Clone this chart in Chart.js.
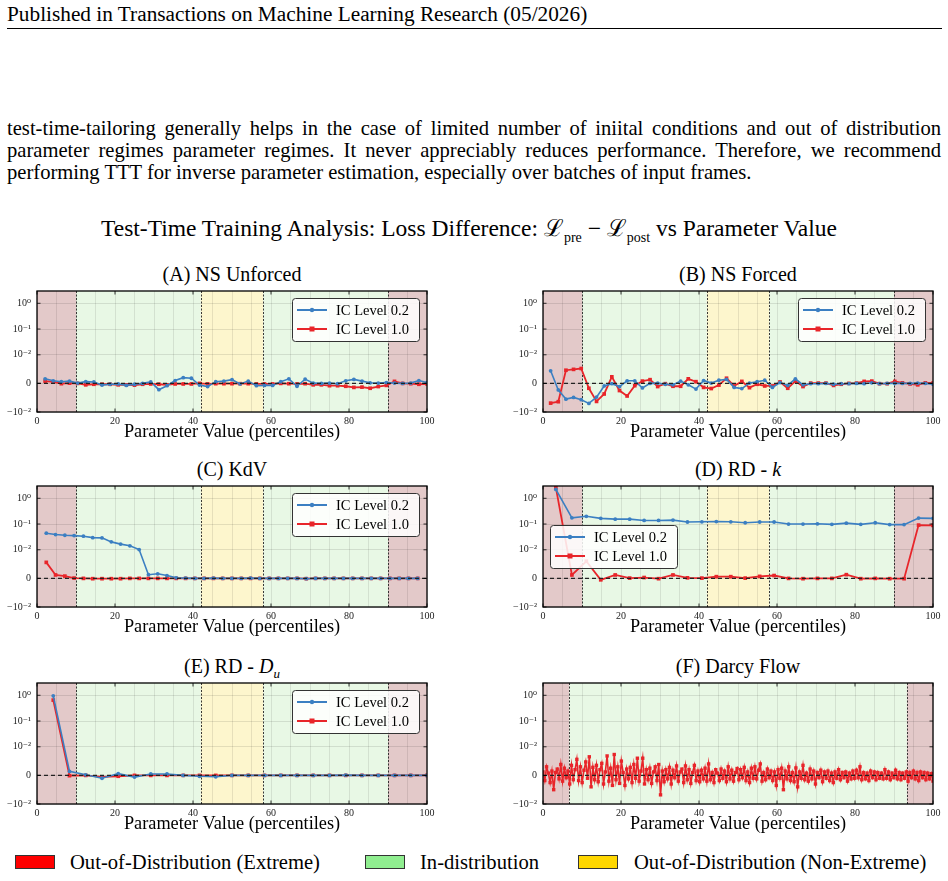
<!DOCTYPE html>
<html>
<head>
<meta charset="utf-8">
<script src="https://cdn.jsdelivr.net/npm/chart.js@4.4.1/dist/chart.umd.min.js"></script>
<style>
  body { margin: 0; width: 948px; height: 881px; background: #fff; position: relative; overflow: hidden;
         font-family: 'Liberation Serif', 'DejaVu Serif', serif; color: #000; }
  .txt { position: absolute; white-space: nowrap; }
  #header { left: 7px; top: 2px; font-size: 21.3px; line-height: 25px; }
  #rule { position: absolute; left: 7px; top: 28px; width: 935px; height: 1px; background: #000; }
  .pline { position: absolute; left: 7px; width: 934px; font-size: 20.6px; line-height: 22px; white-space: nowrap; }
  .just { text-align: justify; text-align-last: justify; }
  #mainTitle { left: 0; width: 938px; text-align: center; top: 214px; font-size: 23.5px; line-height: 28px; }
  #mainTitle sub { font-size: 14px; }
  .ptitle { position: absolute; width: 390px; text-align: center; font-size: 20px; line-height: 20px; white-space: nowrap; }
  canvas { position: absolute; }
  .sw { position: absolute; top: 855px; width: 38px; height: 12px; border: 1px solid #333; }
  .lg { position: absolute; top: 850px; font-size: 20.6px; line-height: 24px; white-space: nowrap; }
</style>
</head>
<body>
<div id="header" class="txt">Published in Transactions on Machine Learning Research (05/2026)</div>
<div id="rule"></div>
<div class="pline just" style="top:117px">test-time-tailoring generally helps in the case of limited number of iniital conditions and out of distribution</div>
<div class="pline just" style="top:139px">parameter regimes parameter regimes. It never appreciably reduces performance. Therefore, we recommend</div>
<div class="pline" style="top:161px">performing TTT for inverse parameter estimation, especially over batches of input frames.</div>
<div id="mainTitle" class="txt">Test-Time Training Analysis: Loss Difference: &#x2112;<sub>pre</sub> &#x2212; &#x2112;<sub>post</sub> vs Parameter Value</div>

<div class="ptitle" style="left:37px; top:264px">(A) NS Unforced</div>
<div class="ptitle" style="left:543px; top:264px">(B) NS Forced</div>
<div class="ptitle" style="left:37px; top:459px">(C) KdV</div>
<div class="ptitle" style="left:543px; top:459px">(D) RD - <i>k</i></div>
<div class="ptitle" style="left:37px; top:656px">(E) RD - <i>D<sub style="font-size:13px">u</sub></i></div>
<div class="ptitle" style="left:543px; top:656px">(F) Darcy Flow</div>

<canvas id="pA" width="440" height="169" style="left:0px; top:279px"></canvas>
<canvas id="pB" width="440" height="169" style="left:506px; top:279px"></canvas>
<canvas id="pC" width="440" height="169" style="left:0px; top:474px"></canvas>
<canvas id="pD" width="440" height="169" style="left:506px; top:474px"></canvas>
<canvas id="pE" width="440" height="169" style="left:0px; top:671px"></canvas>
<canvas id="pF" width="440" height="169" style="left:506px; top:671px"></canvas>

<div class="sw" style="left:15px; background:#ff0000"></div>
<div class="lg" id="lg0" style="left:70px"></div>
<div class="sw" style="left:365px; background:#90ee90"></div>
<div class="lg" id="lg1" style="left:420px"></div>
<div class="sw" style="left:578px; background:#ffd700"></div>
<div class="lg" id="lg2" style="left:634px"></div>

<script>
// ---- data ----
const seriesNames = ['IC Level 0.2', 'IC Level 1.0'];
const regionLabels = ['Out-of-Distribution (Extreme)', 'In-distribution', 'Out-of-Distribution (Non-Extreme)'];
const yTickValues = [-0.01, 0, 0.01, 0.1, 1];
const yTickLabels = ['\u221210\u207B\u00B2', '0', '10\u207B\u00B2', '10\u207B\u00B9', '10\u2070'];
const xLabelTicks = [0, 20, 40, 60, 80, 100];
const regionEdges = [0, 10, 42, 58, 90, 100];
const regionKinds = [0, 1, 2, 1, 0];
const darcyEdges = [0, 6.7, 93.3, 100];
const darcyKinds = [0, 1, 0];

// (A) NS Unforced
const xA = [2.08, 4.17, 6.25, 8.33, 10.42, 12.5, 14.58, 16.67, 18.75, 20.83, 22.92, 25, 27.08, 29.17, 31.25, 33.33,
  35.42, 37.5, 39.58, 41.67, 43.75, 45.83, 47.92, 50, 52.08, 54.17, 56.25, 58.33, 60.42, 62.5, 64.58, 66.67,
  68.75, 70.83, 72.92, 75, 77.08, 79.17, 81.25, 83.33, 85.42, 87.5, 89.58, 91.67, 93.75, 95.83, 97.92, 100];
const blueA = [0.0016, 0.0009, 0.0006, 0.0008, 0.0001, 0.0006, 0.0005, -0.0006, -0.0003, -0.0002, -0.0007, -0.0003,
  0, 0.0005, -0.0022, -0.0008, 0.001, 0.002, 0.0018, -0.0006, -0.0011, 0.0006, 0.0008, 0.0013, -0.0002, 0.0008,
  -0.0008, -0.0007, -0.0007, 0.0006, 0.0016, -0.001, 0.0015, 0.0001, 0, 0.0001, -0.0001, 0.0009, 0.0014, 0.0008,
  0.0002, 0.0001, 0.0003, 0.0001, 0, 0.0001, 0.001, 0.0003];
const redA = [0.0008, 0.0005, -0.0001, 0.0001, 0, -0.0005, -0.0003, -0.0003, -0.0003, -0.0005, -0.0005, -0.0006,
  -0.0003, -0.0002, -0.0003, -0.0005, -0.0002, -0.0002, -0.0002, 0, -0.0002, -0.0001, -0.0001, -0.0001, -0.0001,
  -0.0001, -0.0002, -0.0002, -0.0002, 0, -0.0001, -0.0002, -0.0001, -0.0005, -0.0005, -0.0008, -0.0008, -0.001,
  -0.0014, -0.0013, -0.0017, -0.0011, -0.0007, 0.0007, 0, -0.0001, -0.0003, -0.0002];

// (B) NS Forced
const xB = [1.96, 3.92, 5.88, 7.84, 9.8, 11.76, 13.73, 15.69, 17.65, 19.61, 21.57, 23.53, 25.49, 27.45, 29.41, 31.37,
  33.33, 35.29, 37.25, 39.22, 41.18, 43.14, 45.1, 47.06, 49.02, 50.98, 52.94, 54.9, 56.86, 58.82, 60.78, 62.75,
  64.71, 66.67, 68.63, 70.59, 72.55, 74.51, 76.47, 78.43, 80.39, 82.35, 84.31, 86.27, 88.24, 90.2, 92.16, 94.12,
  96.08, 98.04, 100];
const blueB = [0.0044, -0.0023, -0.0055, -0.0049, -0.0057, -0.007, -0.0048, -0.0009, -0.0001, -0.0011,
  0.0009, 0.0009, -0.0016, 0, 0.0001, -0.0003, -0.0005, 0.0008, -0.0005, -0.002,
  0.001, 0.0001, 0.0011, 0.0014, -0.0014, -0.0018, 0.0001, 0.0006, 0.0011, -0.0014,
  0.0003, -0.0007, 0.0016, -0.0005, -0.0001, -0.0001, 0, -0.0003, -0.0001, -0.0001,
  0, -0.0001, 0.0002, -0.0001, 0, 0, 0, 0, 0.0001, 0, -0.0003];
const redB = [-0.0069, -0.0064, 0.0046, 0.0049, 0.0052, -0.0017, -0.0063, -0.0037, 0.0023, -0.0025,
  -0.0044, -0.0008, 0.0008, 0.0013, -0.0011, -0.0001, -0.001, -0.001, 0.0016, 0.0006,
  -0.0014, -0.0018, -0.0006, 0.0018, -0.0009, 0.0007, -0.0015, -0.0003, -0.0009, -0.0009,
  0.0005, -0.0017, 0.0008, -0.0011, 0.0001, 0.0001, 0.0001, -0.0007, -0.0003, 0,
  0.0001, 0.0007, 0.0008, -0.0001, -0.0001, 0.0007, 0.0002, -0.0002, -0.0005, 0.0002, 0.0001];

// (C) KdV
const xC = [2.38, 4.76, 7.14, 9.52, 11.9, 14.29, 16.67, 19.05, 21.43, 23.81, 26.19, 28.57, 30.95, 33.33, 35.71,
  38.1, 40.48, 42.86, 45.24, 47.62, 50, 52.38, 54.76, 57.14, 59.52, 61.9, 64.29, 66.67, 69.05, 71.43, 73.81,
  76.19, 78.57, 80.95, 83.33, 85.71, 88.1, 90.48, 92.86, 95.24, 97.62];
const blueC = [0.044, 0.039, 0.0367, 0.0355, 0.0337, 0.0296, 0.029, 0.0203, 0.0166, 0.0143,
  0.0102, 0.0013, 0.0016, 0.001, 0.0002, 0.0001, 0, 0, 0.0001, 0,
  0, 0, 0.0001, 0, 0, 0, 0, 0, -0.0001, 0,
  0, 0, 0, 0, 0, 0, 0, 0, 0, 0, 0];
const redC = [0.0056, 0.0012, 0.0008, 0.0001, 0, -0.0001, -0.0001, -0.0001, -0.0001, 0,
  0, 0, 0, 0, 0, 0, 0, 0, 0, 0,
  0, 0, 0, 0, 0, 0, 0, 0, -0.0001, 0,
  0, 0, 0, 0, 0, 0, 0, 0, 0, 0, 0];

// (D) RD - k
const xD = [3.3, 7.41, 11.11, 14.81, 18.52, 22.22, 25.93, 29.63, 33.33, 37.04, 40.74, 44.44, 48.15, 51.85,
  55.56, 59.26, 62.96, 66.67, 70.37, 74.07, 77.78, 81.48, 85.19, 88.89, 92.59, 96.3, 100];
const blueD = [2.2, 0.174, 0.2, 0.166, 0.155, 0.155, 0.138, 0.138, 0.142, 0.12, 0.122, 0.125, 0.122, 0.112,
  0.12, 0.12, 0.1, 0.1, 0.102, 0.097, 0.108, 0.097, 0.112, 0.095, 0.095, 0.17, 0.166];
const redD = [2.6, 0.0012, 0.006, -0.0005, 0.0012, 0.0001, 0.0003, -0.0001, 0.0012, 0.0002, 0.0001, 0.0006,
  0.0006, 0.0001, 0.0007, 0.001, 0, -0.0001, 0, 0, 0.0013, -0.0001, 0, -0.0001, -0.0001, 0.091, 0.088];

// (E) RD - Du
const xE = [4.17, 8.33, 12.5, 16.67, 20.83, 25, 29.17, 33.33, 37.5, 41.67, 45.83, 50, 54.17, 58.33, 62.5,
  66.67, 70.83, 75, 79.17, 83.33, 87.5, 91.67, 95.83, 100];
const blueE = [0.95, 0.0014, 0.0002, -0.001, 0.0006, -0.0006, 0.0005, 0.0005, 0, -0.0003, -0.0005, 0,
  0, 0, 0, 0, 0, 0, 0.0001, 0, 0, 0, 0, 0];
const redE = [0.65, -0.0001, 0, -0.0005, -0.0003, 0, 0, 0, 0, 0, 0, 0,
  0, 0, 0, 0, 0, 0, 0, 0, 0, 0, 0, 0];

// (F) Darcy Flow, IC Level 1.0 (points evenly spread over the percentile range)
const redF = [
  0.0012, -0.0018, 0.0030, 0.0008, -0.0025, 0.0015, -0.0050, 0.0010, 0.0022, -0.0012,
  0.0038, -0.0020, 0.0025, -0.0008, 0.0015, -0.0030, 0.0035, -0.0015, 0.0020, 0.0056,
  -0.0018, 0.0030, -0.0025, 0.0018, 0.0047, -0.0010, 0.0065, -0.0040, 0.0028, -0.0015,
  0.0035, -0.0022, 0.0020, 0.0042, -0.0030, 0.0012, 0.0068, -0.0020, 0.0025, -0.0035,
  0.0073, -0.0015, 0.0030, -0.0028, 0.0050, 0.0010, -0.0035, 0.0022, -0.0012, 0.0028,
  -0.0025, 0.0038, -0.0010, 0.0060, -0.0020, 0.0015, 0.0060, -0.0030, 0.0020, -0.0015,
  0.0025, -0.0028, 0.0012, 0.0030, -0.0018, 0.0038, -0.0068, 0.0015, -0.0022, 0.0020,
  -0.0012, 0.0028, -0.0030, 0.0018, -0.0008, 0.0033, -0.0020, 0.0012, 0.0022, -0.0025,
  0.0033, -0.0015, 0.0020, -0.0028, 0.0010, 0.0035, -0.0018, 0.0015, -0.0022, 0.0018,
  -0.0012, 0.0025, -0.0020, 0.0040, -0.0015, 0.0010, -0.0025, 0.0020, 0.0008, -0.0018,
  0.0022, -0.0010, 0.0015, -0.0022, 0.0030, -0.0012, 0.0018, -0.0020, 0.0010, 0.0024,
  -0.0015, 0.0020, -0.0008, 0.0028, -0.0018, 0.0012, -0.0025, 0.0025, -0.0010, 0.0030,
  -0.0012, 0.0018, 0.0040, -0.0020, 0.0010, -0.0015, 0.0022, -0.0008, 0.0015, -0.0018,
  0.0012, -0.0035, 0.0020, -0.0010, 0.0025, -0.0050, 0.0015, -0.0012, 0.0030, -0.0018,
  0.0010, -0.0022, 0.0026, -0.0040, 0.0012, -0.0010, 0.0035, -0.0015, 0.0008, -0.0020,
  0.0022, -0.0012, 0.0015, -0.0030, 0.0010, -0.0008, 0.0018, -0.0022, 0.0012, -0.0010,
  0.0015, -0.0018, 0.0008, -0.0025, 0.0012, -0.0010, 0.0020, -0.0015, 0.0010, -0.0008,
  0.0012, -0.0020, 0.0008, -0.0012, 0.0015, -0.0010, 0.0018, -0.0008, 0.0030, -0.0015,
  0.0010, -0.0012, 0.0008, -0.0018, 0.0015, -0.0008, 0.0012, -0.0015, 0.0010, -0.0010,
  0.0008, -0.0012, 0.0020, -0.0010, 0.0012, -0.0015, 0.0008, -0.0008, 0.0018, -0.0012,
  0.0010, -0.0015, 0.0008, -0.0010, 0.0012, -0.0020, 0.0010, -0.0008, 0.0015, -0.0012,
  0.0010, -0.0018, 0.0012, -0.0008, 0.0010, -0.0015, 0.0008, -0.0012, 0.0006, -0.0020];
const xF = redF.map((_, i) => i * 100 / (redF.length - 1));

// ---- styles ----
const BLUE = '#3b7fc2';
const RED = '#e8252a';
const regionFill = ['rgb(227,201,201)', 'rgb(232,248,229)', 'rgb(253,246,205)'];
const FONT = "'Liberation Serif', 'DejaVu Serif', serif";

document.getElementById('lg0').textContent = regionLabels[0];
document.getElementById('lg1').textContent = regionLabels[1];
document.getElementById('lg2').textContent = regionLabels[2];

// symmetric log scale, linear between -0.01 and 0.01 (like matplotlib symlog, linscale 1)
const LINTHRESH = 0.01;
const LINSCALE = 1 / (1 - 1 / 10);
function symT(v) {
  const a = Math.abs(v);
  if (a <= LINTHRESH) return v / LINTHRESH * LINSCALE;
  return Math.sign(v) * (LINSCALE + Math.log10(a / LINTHRESH));
}
function symInv(t) {
  const a = Math.abs(t);
  if (a <= LINSCALE) return t / LINSCALE * LINTHRESH;
  return Math.sign(t) * LINTHRESH * Math.pow(10, a - LINSCALE);
}

class SymlogScale extends Chart.LinearScale {
  buildTicks() {
    return yTickValues.map(v => ({ value: v }));
  }
  getPixelForValue(v) {
    const a = symT(this.min), b = symT(this.max);
    return this.getPixelForDecimal((symT(v) - a) / (b - a));
  }
  getValueForPixel(p) {
    const a = symT(this.min), b = symT(this.max);
    return symInv(a + this.getDecimalForPixel(p) * (b - a));
  }
}
SymlogScale.id = 'symlog';
SymlogScale.defaults = {};
Chart.register(SymlogScale);

const decorPlugin = {
  id: 'decor',
  beforeDraw(chart, args, opts) {
    const { ctx, chartArea: a, scales: { x } } = chart;
    ctx.save();
    for (let i = 0; i < opts.kinds.length; i++) {
      const x0 = x.getPixelForValue(opts.edges[i]);
      const x1 = x.getPixelForValue(opts.edges[i + 1]);
      ctx.fillStyle = regionFill[opts.kinds[i]];
      ctx.fillRect(x0, a.top, x1 - x0, a.bottom - a.top);
    }
    ctx.restore();
  },
  beforeDatasetsDraw(chart, args, opts) {
    const { ctx, chartArea: a, scales: { x } } = chart;
    ctx.save();
    ctx.strokeStyle = '#222';
    ctx.lineWidth = 0.9;
    ctx.setLineDash([2, 1.5]);
    for (let i = 1; i < opts.edges.length - 1; i++) {
      const px = Math.round(x.getPixelForValue(opts.edges[i])) + 0.5;
      ctx.beginPath();
      ctx.moveTo(px, a.top);
      ctx.lineTo(px, a.bottom);
      ctx.stroke();
    }
    ctx.restore();
  },
  afterDatasetsDraw(chart) {
    const { ctx, chartArea: a, scales: { x, y } } = chart;
    ctx.save();
    const y0 = y.getPixelForValue(0);
    ctx.strokeStyle = '#222';
    ctx.lineWidth = 1.2;
    ctx.setLineDash([4, 3]);
    ctx.beginPath();
    ctx.moveTo(a.left, y0);
    ctx.lineTo(a.right, y0);
    ctx.stroke();
    ctx.setLineDash([]);
    // tick marks pointing inward
    ctx.lineWidth = 0.8;
    ctx.strokeStyle = '#000';
    ctx.beginPath();
    xLabelTicks.forEach(v => {
      const px = x.getPixelForValue(v);
      ctx.moveTo(px, a.bottom); ctx.lineTo(px, a.bottom - 3.5);
      ctx.moveTo(px, a.top); ctx.lineTo(px, a.top + 3.5);
    });
    yTickValues.forEach(v => {
      const py = y.getPixelForValue(v);
      ctx.moveTo(a.left, py); ctx.lineTo(a.left + 3.5, py);
      ctx.moveTo(a.right, py); ctx.lineTo(a.right - 3.5, py);
    });
    ctx.stroke();
    ctx.lineWidth = 1.3;
    ctx.strokeRect(a.left, a.top, a.right - a.left, a.bottom - a.top);
    ctx.restore();
  }
};

const boxLegendPlugin = {
  id: 'boxLegend',
  afterDraw(chart, args, opts) {
    if (!opts.where) return;
    const { ctx, chartArea: a } = chart;
    const w = 127, h = 43;
    const bx = opts.where === 'ne' ? a.right - 8 - w : a.left + 7;
    const by = opts.where === 'ne' ? a.top + 7 : (a.top + a.bottom) / 2 - h / 2;
    ctx.save();
    ctx.fillStyle = 'rgba(255,255,255,0.85)';
    ctx.strokeStyle = '#333';
    ctx.lineWidth = 1;
    ctx.beginPath();
    ctx.roundRect(bx + 0.5, by + 0.5, w, h, 3);
    ctx.fill();
    ctx.stroke();
    chart.data.datasets.forEach((ds, i) => {
      const ry = by + 12 + 19 * i;
      ctx.strokeStyle = ds.borderColor;
      ctx.lineWidth = 2;
      ctx.beginPath();
      ctx.moveTo(bx + 5, ry);
      ctx.lineTo(bx + 35, ry);
      ctx.stroke();
      ctx.fillStyle = ds.borderColor;
      if (ds.pointStyle === 'rect') {
        ctx.fillRect(bx + 17.5, ry - 2.5, 5, 5);
      } else {
        ctx.beginPath();
        ctx.arc(bx + 20, ry, 2.2, 0, Math.PI * 2);
        ctx.fill();
      }
      ctx.fillStyle = '#000';
      ctx.font = '14.5px ' + FONT;
      ctx.textBaseline = 'middle';
      ctx.fillText(ds.label, bx + 44, ry + 1);
    });
    ctx.restore();
  }
};

function series(label, color, style, xs, ys, radius, width) {
  return {
    label: label,
    data: xs.map((x, i) => ({ x: x, y: ys[i] })),
    borderColor: color,
    backgroundColor: color,
    borderWidth: width,
    pointStyle: style,
    pointRadius: radius,
    pointBorderWidth: 0,
    pointHoverRadius: radius,
    tension: 0,
    fill: false
  };
}

function panel(id, datasets, edges, kinds, legendWhere) {
  new Chart(document.getElementById(id), {
    type: 'line',
    data: { datasets: datasets },
    plugins: [decorPlugin, boxLegendPlugin],
    options: {
      responsive: false,
      animation: false,
      events: [],
      layout: { padding: { top: 10, right: 13, left: 0, bottom: 0 } },
      plugins: {
        legend: { display: false },
        tooltip: { enabled: false },
        decor: { edges: edges, kinds: kinds },
        boxLegend: { where: legendWhere }
      },
      scales: {
        x: {
          type: 'linear', min: 0, max: 100,
          afterFit: s => { s.height = 36; },
          border: { display: false },
          grid: { color: 'rgba(0,0,0,0.09)', lineWidth: 1, drawTicks: false },
          ticks: {
            stepSize: 5, autoSkip: false, maxRotation: 0, padding: 3, color: '#222',
            font: { family: FONT, size: 10 },
            callback: v => xLabelTicks.includes(v) ? String(v) : ''
          },
          title: { display: true, text: 'Parameter Value (percentiles)', color: '#000',
                   font: { family: FONT, size: 18.3 }, padding: { top: 0, bottom: 5 } }
        },
        y: {
          type: 'symlog', min: -0.01, max: 3,
          afterFit: s => { s.width = 37; },
          border: { display: false },
          grid: { color: 'rgba(0,0,0,0.1)', lineWidth: 1, drawTicks: false },
          ticks: {
            autoSkip: false, padding: 6, color: '#222',
            font: { family: FONT, size: 10 },
            callback: (v, i) => yTickLabels[i]
          }
        }
      }
    }
  });
}

panel('pA', [series(seriesNames[0], BLUE, 'circle', xA, blueA, 1.9, 1.6),
             series(seriesNames[1], RED, 'rect', xA, redA, 2.6, 1.8)], regionEdges, regionKinds, 'ne');
panel('pB', [series(seriesNames[0], BLUE, 'circle', xB, blueB, 1.9, 1.6),
             series(seriesNames[1], RED, 'rect', xB, redB, 2.6, 1.8)], regionEdges, regionKinds, 'ne');
panel('pC', [series(seriesNames[0], BLUE, 'circle', xC, blueC, 1.9, 1.6),
             series(seriesNames[1], RED, 'rect', xC, redC, 2.6, 1.8)], regionEdges, regionKinds, 'ne');
panel('pD', [series(seriesNames[0], BLUE, 'circle', xD, blueD, 1.9, 1.6),
             series(seriesNames[1], RED, 'rect', xD, redD, 2.6, 1.8)], regionEdges, regionKinds, 'w');
panel('pE', [series(seriesNames[0], BLUE, 'circle', xE, blueE, 1.9, 1.6),
             series(seriesNames[1], RED, 'rect', xE, redE, 2.6, 1.8)], regionEdges, regionKinds, 'ne');
panel('pF', [series(seriesNames[1], RED, 'rect', xF, redF, 2.4, 1.6)], darcyEdges, darcyKinds, null);
</script>
</body>
</html>
